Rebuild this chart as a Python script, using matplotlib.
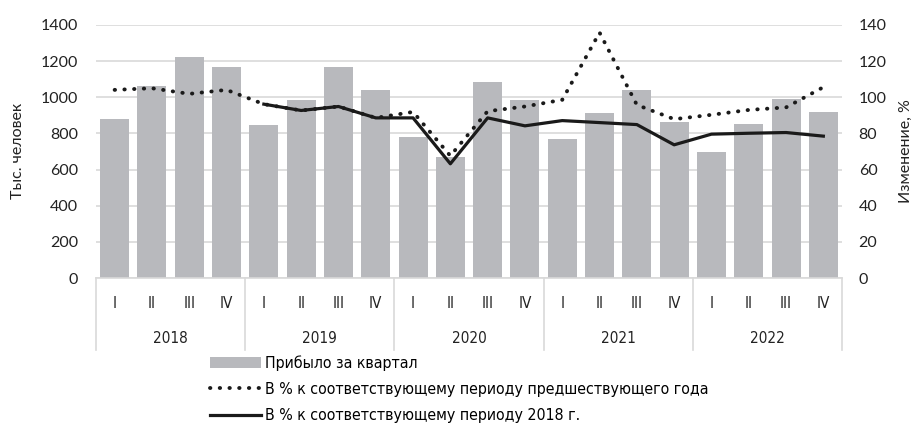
import os

import matplotlib.pyplot as plt
import numpy as np
from matplotlib import font_manager
from matplotlib.lines import Line2D
from matplotlib.patches import Patch

years = ["2018", "2019", "2020", "2021", "2022"]
quarters = ["I", "II", "III", "IV"]

# тыс. человек, по кварталам
arrivals = [880, 1063, 1225, 1170,
            847, 985, 1168, 1041,
            783, 669, 1087, 985,
            768, 912, 1043, 864,
            698, 851, 989, 917]

# % к соответствующему периоду предшествующего года
pct_prev_year = [104.1, 105.0, 101.9, 104.1,
                 96.2, 92.7, 94.9, 88.6,
                 91.9, 67.6, 92.3, 94.9,
                 98.6, 135.8, 95.8, 87.9,
                 90.3, 93.0, 94.4, 105.6]

# % к соответствующему периоду 2018 г. (нет данных за 2018)
pct_2018 = [np.nan, np.nan, np.nan, np.nan,
            96.2, 92.7, 94.9, 88.6,
            88.6, 63.2, 88.6, 84.2,
            87.1, 86.0, 84.9, 73.7,
            79.6, 80.1, 80.5, 78.5]


def find_narrow():
    files = {os.path.basename(f.fname): f.fname for f in font_manager.fontManager.ttflist}
    for name in ["LiberationSansNarrow-Regular.ttf", "DejaVuSansCondensed.ttf"]:
        if name in files:
            return files[name]
    return None


bar_color = "#b8b9bd"
grid_color = "#d9d9d9"
tick_font = ["Lato", "DejaVu Sans"]
narrow_file = find_narrow()
if narrow_file:
    narrow_prop = font_manager.FontProperties(fname=narrow_file, size=11)
    legend_prop = font_manager.FontProperties(fname=narrow_file, size=11.4)
else:
    narrow_prop = font_manager.FontProperties(family="DejaVu Sans", size=10)
    legend_prop = narrow_prop

fig = plt.figure(figsize=(9.13, 4.24), dpi=100)
ax = fig.add_axes([96 / 913, 1 - 278 / 424, (842 - 96) / 913, (278 - 25) / 424])
x = np.arange(len(arrivals))

ax.bar(x, arrivals, width=0.78, color=bar_color, zorder=2)
ax.set_xlim(-0.5, len(arrivals) - 0.5)
ax.set_ylim(0, 1400)
ax.set_yticks(np.arange(0, 1401, 200))
ax.yaxis.grid(True, color=grid_color, lw=1.2, zorder=0)
ax.set_axisbelow(True)
for s in ["top", "right", "left"]:
    ax.spines[s].set_visible(False)
ax.spines["bottom"].set_color(grid_color)
ax.spines["bottom"].set_linewidth(1.2)
ax.tick_params(axis="both", length=0)
ax.tick_params(axis="y", pad=13)
for lbl in ax.get_yticklabels():
    lbl.set_fontfamily(tick_font)
    lbl.set_fontsize(11.5)
    lbl.set_color("#222222")

ax.set_xticks(x)
ax.set_xticklabels(quarters * len(years), fontproperties=narrow_prop, color="#222222")
ax.tick_params(axis="x", pad=13)

trans = ax.get_xaxis_transform()
for i, yr in enumerate(years):
    ax.text(i * 4 + 1.5, -0.24, yr, transform=trans, ha="center", va="center",
            fontproperties=narrow_prop, color="#222222")
for b in range(len(years) + 1):
    ax.add_line(Line2D([b * 4 - 0.5] * 2, [0, -0.285], transform=trans,
                       color=grid_color, lw=1.2, clip_on=False))

ax2 = ax.twinx()
ax2.set_ylim(0, 140)
ax2.set_yticks(np.arange(0, 141, 20))
for s in ["top", "right", "left", "bottom"]:
    ax2.spines[s].set_visible(False)
ax2.tick_params(axis="y", length=0, pad=12)
for lbl in ax2.get_yticklabels():
    lbl.set_fontfamily(tick_font)
    lbl.set_fontsize(11.5)
    lbl.set_color("#222222")

ax2.plot(x, pct_2018, color="#1a1a1a", lw=2.3, zorder=3)
ax2.plot(x, pct_prev_year, color="#1a1a1a", lw=2.8, linestyle=(0, (0.1, 2.4)),
         dash_capstyle="round", zorder=4)

fig.text(18 / 913, 1 - 151 / 424, "Тыс. человек", rotation=90, ha="center", va="center",
         fontfamily=tick_font, fontsize=11.5, color="#222222")
fig.text(906 / 913, 1 - 151 / 424, "Изменение, %", rotation=90, ha="center", va="center",
         fontfamily=tick_font, fontsize=11.5, color="#222222")

handles = [
    Patch(facecolor=bar_color, edgecolor="none"),
    Line2D([], [], color="#1a1a1a", lw=2.8, linestyle=(0, (0.1, 2.4)), dash_capstyle="round"),
    Line2D([], [], color="#1a1a1a", lw=2.3),
]
labels = [
    "Прибыло за квартал",
    "В % к соответствующему периоду предшествующего года",
    "В % к соответствующему периоду 2018 г.",
]
fig.legend(handles, labels, loc="upper left", bbox_to_anchor=(210 / 913, 1 - 355 / 424),
           frameon=False, prop=legend_prop, handlelength=3.2,
           handletextpad=0.3, labelspacing=0.72, borderaxespad=0, borderpad=0)

fig.savefig("out.png", dpi=100)
